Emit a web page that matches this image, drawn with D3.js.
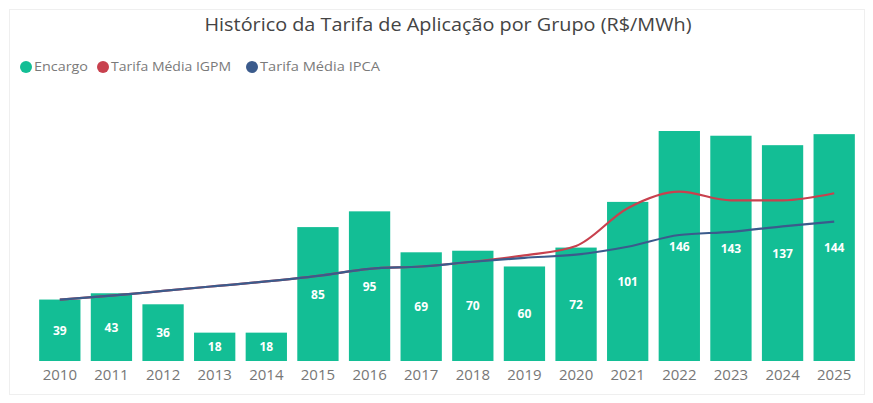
<!DOCTYPE html>
<html><head><meta charset="utf-8">
<script src="https://cdn.jsdelivr.net/npm/d3@7"></script>
<style>body{margin:0;background:#fff;}svg{display:block;font-family:"Open Sans",sans-serif;}</style>
</head><body>
<script>
const years = ["2010","2011","2012","2013","2014","2015","2016","2017","2018","2019","2020","2021","2022","2023","2024","2025"];
const encargo = [39,43,36,18,18,85,95,69,70,60,72,101,146,143,137,144];
const tarifaIGPM = [39,41.5,44.5,47.5,50.5,54,58.5,60,63,67,73,97,107.5,102,102,106.5];
const tarifaIPCA = [39,41.5,44.5,47.5,50.5,54,58.5,60,63,65.5,67.5,72.5,80,82,85.5,88.5];
const legendNames = ["Encargo","Tarifa Média IGPM","Tarifa Média IPCA"];
const title = "Histórico da Tarifa de Aplicação por Grupo (R$/MWh)";

const W=873,H=403;
const colors={bar:"#13BE95",igpm:"#C8414E",ipca:"#3B5B8C"};
const svg=d3.select("body").append("svg").attr("width",W).attr("height",H);

svg.append("rect").attr("x",9.5).attr("y",9.5).attr("width",855).attr("height",385)
  .attr("fill","#fff").attr("stroke","#efefef");

svg.append("text").attr("x",448).attr("y",31).attr("text-anchor","middle")
  .attr("font-size",17.5).attr("fill","#444")
  .attr("textLength",487).attr("lengthAdjust","spacingAndGlyphs").text(title);

const x=d3.scaleBand().domain(years).range([34,860]).paddingInner(0.2).paddingOuter(0.1);
const y=d3.scaleLinear().domain([0,146]).range([361,131]);

// legend
const legX=[26,103,252];
const legW=[54,120,120];
const lcol=[colors.bar,colors.igpm,colors.ipca];
const lg=svg.append("g");
legendNames.forEach((n,i)=>{
  lg.append("circle").attr("cx",legX[i]).attr("cy",67).attr("r",6).attr("fill",lcol[i]);
  lg.append("text").attr("x",legX[i]+8).attr("y",71).attr("font-size",12)
    .attr("textLength",legW[i]).attr("lengthAdjust","spacingAndGlyphs")
    .attr("fill","#7a7a7a").text(n);
});

svg.append("g").selectAll("rect").data(years).join("rect")
  .attr("x",d=>x(d)).attr("width",x.bandwidth())
  .attr("y",(d,i)=>y(encargo[i])).attr("height",(d,i)=>y(0)-y(encargo[i]))
  .attr("fill",colors.bar);

const line=arr=>d3.line().x((d,i)=>x(years[i])+x.bandwidth()/2).y(d=>y(d)).curve(d3.curveMonotoneX)(arr);
svg.append("path").attr("d",line(tarifaIGPM)).attr("fill","none").attr("stroke",colors.igpm).attr("stroke-width",2.2);
svg.append("path").attr("d",line(tarifaIPCA)).attr("fill","none").attr("stroke",colors.ipca).attr("stroke-width",2.2);

svg.append("g").selectAll("text").data(years).join("text")
  .attr("x",d=>x(d)+x.bandwidth()/2).attr("y",(d,i)=>(y(encargo[i])+y(0))/2+4.5)
  .attr("text-anchor","middle").attr("font-size",12).attr("font-weight","bold").attr("fill","#fff")
  .text((d,i)=>encargo[i]);

const xAxis=svg.append("g").attr("transform","translate(0,361)")
  .call(d3.axisBottom(x).tickSize(0).tickPadding(8));
xAxis.select(".domain").remove();
xAxis.selectAll("text").attr("font-size",15).attr("fill","#777").attr("font-family","Open Sans, sans-serif");
</script>
</body></html>
